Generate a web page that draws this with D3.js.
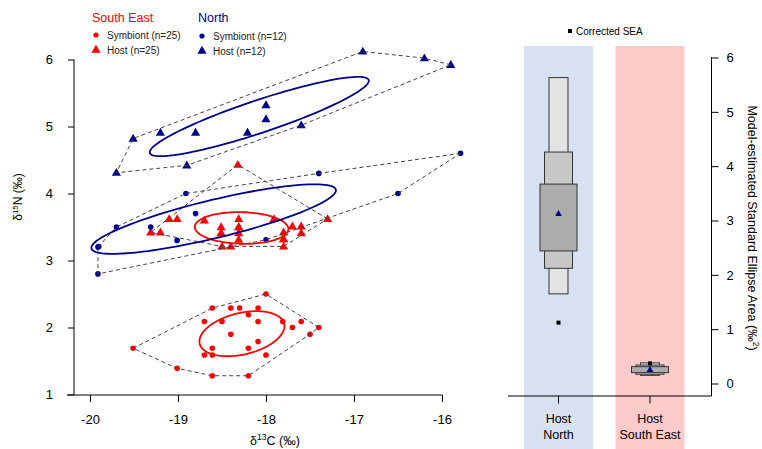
<!DOCTYPE html>
<html>
<head>
<meta charset="utf-8">
<script src="https://cdn.jsdelivr.net/npm/d3@7"></script>
<style>
body { margin: 0; background: #fff; }
svg { display: block; font-family: "Liberation Sans", Arial, sans-serif; }
</style>
</head>
<body>
<script>
var width = 762;
var height = 449;

// isotope data
var seSymbiontX = [-19.51,-19.01,-18.61,-18.2,-18.0,-18.61,-18.4,-18.3,-18.09,-18.2,-18.7,-18.5,-18.09,-17.81,-17.6,-17.7,-17.4,-17.5,-18.4,-18.09,-18.2,-18.61,-18.7,-18.61,-18.0];
var seSymbiontY = [1.69,1.39,1.28,1.28,2.50,2.29,2.29,2.29,2.29,2.19,2.09,2.09,2.09,2.09,2.09,2.0,2.0,1.9,1.9,1.79,1.69,1.69,1.59,1.59,1.59];

var seHostX = [-19.10,-19.01,-19.31,-19.20,-18.70,-18.51,-18.51,-18.31,-18.31,-18.31,-18.31,-18.50,-18.40,-17.91,-17.80,-17.80,-17.80,-17.70,-17.60,-17.60,-17.30,-18.32,-18.31,-18.51,-17.80];
var seHostY = [3.62,3.62,3.42,3.42,3.60,3.50,3.41,3.62,3.50,3.41,3.31,3.21,3.21,3.62,3.42,3.32,3.21,3.51,3.51,3.41,3.62,4.43,3.50,3.41,3.32];

var northSymbiontX = [-19.70,-18.91,-18.80,-19.31,-19.01,-19.91,-19.91,-18.00,-17.40,-16.50,-15.79,-19.90];
var northSymbiontY = [3.50,4.00,3.70,3.50,3.30,3.20,2.80,3.31,4.30,4.00,4.60,3.21];

var northHostX = [-19.51,-19.20,-18.80,-18.21,-18.00,-18.00,-17.60,-19.70,-18.90,-16.90,-16.20,-15.90];
var northHostY = [4.82,4.91,4.91,4.91,5.32,5.11,5.02,4.31,4.42,6.12,6.02,5.92];

var xTicks = [-20,-19,-18,-17,-16];
var yTicks = [1,2,3,4,5,6];

// model-estimated SEA (Bayesian) per host group
var hostGroups = ["Host North", "Host South East"];
var hostLabels = [["Host","North"],["Host","South East"]];
var sea95 = [[1.65,5.63],[0.15,0.38]];
var sea75 = [[2.12,4.26],[0.17,0.34]];
var sea50 = [[2.44,3.67],[0.20,0.31]];
var seaMode = [3.12, 0.25];
var seaCorrected = [1.12, 0.37];
var seaTicks = [0,1,2,3,4,5,6];

var red = "#ff0000";
var navy = "#00008b";

var svg = d3.select("body").append("svg")
    .attr("width", width)
    .attr("height", height);

// ---------- left panel: biplot ----------
var x = d3.scaleLinear().domain([-20,-16]).range([90,442]);
var y = d3.scaleLinear().domain([1,6]).range([394.5,59.5]);

var left = svg.append("g");

left.append("line").attr("x1",74).attr("x2",74).attr("y1",59.5).attr("y2",395)
    .attr("stroke","#000");
left.append("line").attr("x1",67).attr("x2",442.5).attr("y1",395).attr("y2",395)
    .attr("stroke","#000");

var yAxis = left.append("g")
    .attr("transform","translate(74,0)")
    .call(d3.axisLeft(y).tickValues(yTicks).tickSize(6).tickPadding(15).tickFormat(function(d){ return String(d); }));
yAxis.select(".domain").remove();
yAxis.selectAll("text").attr("font-size",13).attr("font-family","Liberation Sans, Arial, sans-serif").attr("fill","#000");

var xAxis = left.append("g")
    .attr("transform","translate(0,395)")
    .call(d3.axisBottom(x).tickValues(xTicks).tickSize(7).tickPadding(13).tickFormat(function(d){ return String(d); }));
xAxis.select(".domain").remove();
xAxis.selectAll("text").attr("font-size",13).attr("font-family","Liberation Sans, Arial, sans-serif").attr("fill","#000");

// axis titles
var xt = left.append("text").attr("x",275).attr("y",445).attr("text-anchor","middle").attr("font-size",12.5);
xt.append("tspan").text("δ");
xt.append("tspan").attr("font-size",8.5).attr("dy",-5).text("13");
xt.append("tspan").attr("dy",5).text("C (‰)");

var yt = left.append("text").attr("transform","translate(22,197) rotate(-90)").attr("text-anchor","middle").attr("font-size",12);
yt.append("tspan").text("δ");
yt.append("tspan").attr("font-size",8).attr("dy",-4.5).text("15");
yt.append("tspan").attr("dy",4.5).text("N (‰)");

var groups = [
    {xs: seSymbiontX, ys: seSymbiontY, color: red, shape: "circle"},
    {xs: seHostX, ys: seHostY, color: red, shape: "triangle"},
    {xs: northSymbiontX, ys: northSymbiontY, color: navy, shape: "circle"},
    {xs: northHostX, ys: northHostY, color: navy, shape: "triangle"}
];

var tri = d3.symbol().type(d3.symbolTriangle).size(36);

// points
groups.forEach(function(g){
    var pts = g.xs.map(function(v,i){ return [x(v), y(g.ys[i])]; });
    if (g.shape === "circle") {
        left.append("g").selectAll("circle").data(pts).enter().append("circle")
            .attr("cx",function(d){ return d[0]; })
            .attr("cy",function(d){ return d[1]; })
            .attr("r",2.8)
            .attr("fill",g.color);
    } else {
        left.append("g").selectAll("path").data(pts).enter().append("path")
            .attr("d",tri)
            .attr("transform",function(d){ return "translate("+d[0]+","+(d[1]+0.5)+")"; })
            .attr("fill",g.color);
    }
    g.pts = pts;
});

// convex hulls
groups.forEach(function(g){
    var hull = d3.polygonHull(g.pts);
    left.append("path")
        .attr("d","M"+hull.join("L")+"Z")
        .attr("fill","none")
        .attr("stroke","#444")
        .attr("stroke-width",1)
        .attr("stroke-dasharray","4,3");
});

// standard ellipses
function ellipse(xs, ys){
    var n = xs.length, mx = d3.mean(xs), my = d3.mean(ys);
    var sxx = 0, syy = 0, sxy = 0;
    for (var i = 0; i < n; i++) {
        sxx += (xs[i]-mx)*(xs[i]-mx);
        syy += (ys[i]-my)*(ys[i]-my);
        sxy += (xs[i]-mx)*(ys[i]-my);
    }
    sxx /= n-1; syy /= n-1; sxy /= n-1;
    var tr = sxx+syy, det = sxx*syy-sxy*sxy;
    var disc = Math.sqrt(tr*tr/4-det);
    var a = Math.sqrt(tr/2+disc), b = Math.sqrt(Math.max(tr/2-disc,0));
    var ang = 0.5*Math.atan2(2*sxy, sxx-syy);
    return d3.range(0,121).map(function(k){
        var t = k/120*2*Math.PI;
        var ex = a*Math.cos(t), ey = b*Math.sin(t);
        return [x(mx+ex*Math.cos(ang)-ey*Math.sin(ang)), y(my+ex*Math.sin(ang)+ey*Math.cos(ang))];
    });
}
var line = d3.line();
groups.forEach(function(g){
    left.append("path")
        .attr("d",line(ellipse(g.xs,g.ys)))
        .attr("fill","none")
        .attr("stroke",g.color)
        .attr("stroke-width",1.8);
});

// legend
var legend = svg.append("g");
legend.append("text").attr("x",92).attr("y",22).attr("font-size",12.5).attr("fill",red).text("South East");
legend.append("text").attr("x",198).attr("y",22).attr("font-size",12.5).attr("fill",navy).text("North");
var legItems = [
    {x:96, y:35, shape:"circle", color:red, label:"Symbiont (n=25)"},
    {x:96, y:50, shape:"triangle", color:red, label:"Host (n=25)"},
    {x:202, y:36, shape:"circle", color:navy, label:"Symbiont (n=12)"},
    {x:202, y:51, shape:"triangle", color:navy, label:"Host (n=12)"}
];
legItems.forEach(function(d){
    if (d.shape === "circle") {
        legend.append("circle").attr("cx",d.x).attr("cy",d.y).attr("r",2.6).attr("fill",d.color);
    } else {
        legend.append("path").attr("d",tri).attr("transform","translate("+d.x+","+d.y+")").attr("fill",d.color);
    }
    legend.append("text").attr("x",d.x+11).attr("y",d.y+3.8).attr("font-size",10).attr("fill","#222").text(d.label);
});

// ---------- right panel: SEA estimates ----------
var xr = d3.scalePoint().domain(hostGroups).range([558.5,650]);
var yr = d3.scaleLinear().domain([0,6]).range([383.5,57.5]);

var right = svg.append("g");
var bgColors = ["#d7e1f2", "#ffcaca"];
right.selectAll("rect.bg").data(hostGroups).enter().append("rect")
    .attr("class","bg")
    .attr("x",function(d){ return xr(d)-34.5; })
    .attr("y",46)
    .attr("width",69)
    .attr("height",height-46)
    .attr("fill",function(d,i){ return bgColors[i]; });

right.append("line").attr("x1",508).attr("x2",711.5).attr("y1",396).attr("y2",396).attr("stroke","#000");
right.append("line").attr("x1",711.5).attr("x2",711.5).attr("y1",57).attr("y2",396).attr("stroke","#000");

var rAxis = right.append("g")
    .attr("transform","translate(711.5,0)")
    .call(d3.axisRight(yr).tickValues(seaTicks).tickSize(7).tickPadding(8).tickFormat(function(d){ return String(d); }));
rAxis.select(".domain").remove();
rAxis.selectAll("text").attr("font-size",13).attr("font-family","Liberation Sans, Arial, sans-serif").attr("fill","#000");

right.selectAll("line.xt").data(hostGroups).enter().append("line")
    .attr("class","xt")
    .attr("x1",function(d){ return xr(d); })
    .attr("x2",function(d){ return xr(d); })
    .attr("y1",396).attr("y2",403.5)
    .attr("stroke","#000");

hostGroups.forEach(function(gname,i){
    var t = right.append("text").attr("text-anchor","middle").attr("font-size",12.5).attr("fill","#000");
    t.append("tspan").attr("x",xr(gname)).attr("y",423).text(hostLabels[i][0]);
    t.append("tspan").attr("x",xr(gname)).attr("y",439).text(hostLabels[i][1]);
});

var boxLevels = [
    {ci: sea95, w: 19, fill: "#e3e3e3"},
    {ci: sea75, w: 28, fill: "#c8c8c8"},
    {ci: sea50, w: 37, fill: "#acacac"}
];
boxLevels.forEach(function(lv){
    right.append("g").selectAll("rect").data(hostGroups).enter().append("rect")
        .attr("x",function(d){ return xr(d)-lv.w/2; })
        .attr("y",function(d,i){ return yr(lv.ci[i][1]); })
        .attr("width",lv.w)
        .attr("height",function(d,i){ return yr(lv.ci[i][0])-yr(lv.ci[i][1]); })
        .attr("fill",lv.fill)
        .attr("stroke","#333")
        .attr("stroke-width",1);
});

var smallTri = d3.symbol().type(d3.symbolTriangle).size(20);
right.append("g").selectAll("path").data(hostGroups).enter().append("path")
    .attr("d",smallTri)
    .attr("transform",function(d,i){ return "translate("+xr(d)+","+yr(seaMode[i])+")"; })
    .attr("fill",navy);

right.append("g").selectAll("rect").data(hostGroups).enter().append("rect")
    .attr("x",function(d){ return xr(d)-2; })
    .attr("y",function(d,i){ return yr(seaCorrected[i])-2; })
    .attr("width",4).attr("height",4)
    .attr("fill","#000");

right.append("rect").attr("x",568).attr("y",29).attr("width",4).attr("height",4).attr("fill","#000");
right.append("text").attr("x",576).attr("y",34.5).attr("font-size",10).attr("fill","#000").text("Corrected SEA");

var rt = right.append("text").attr("transform","translate(748,228) rotate(90)").attr("text-anchor","middle").attr("font-size",12.5).attr("fill","#000");
rt.append("tspan").text("Model-estimated Standard Ellipse Area (‰");
rt.append("tspan").attr("font-size",8.5).attr("dy",-5).text("2");
rt.append("tspan").attr("dy",5).text(")");
</script>
</body>
</html>
